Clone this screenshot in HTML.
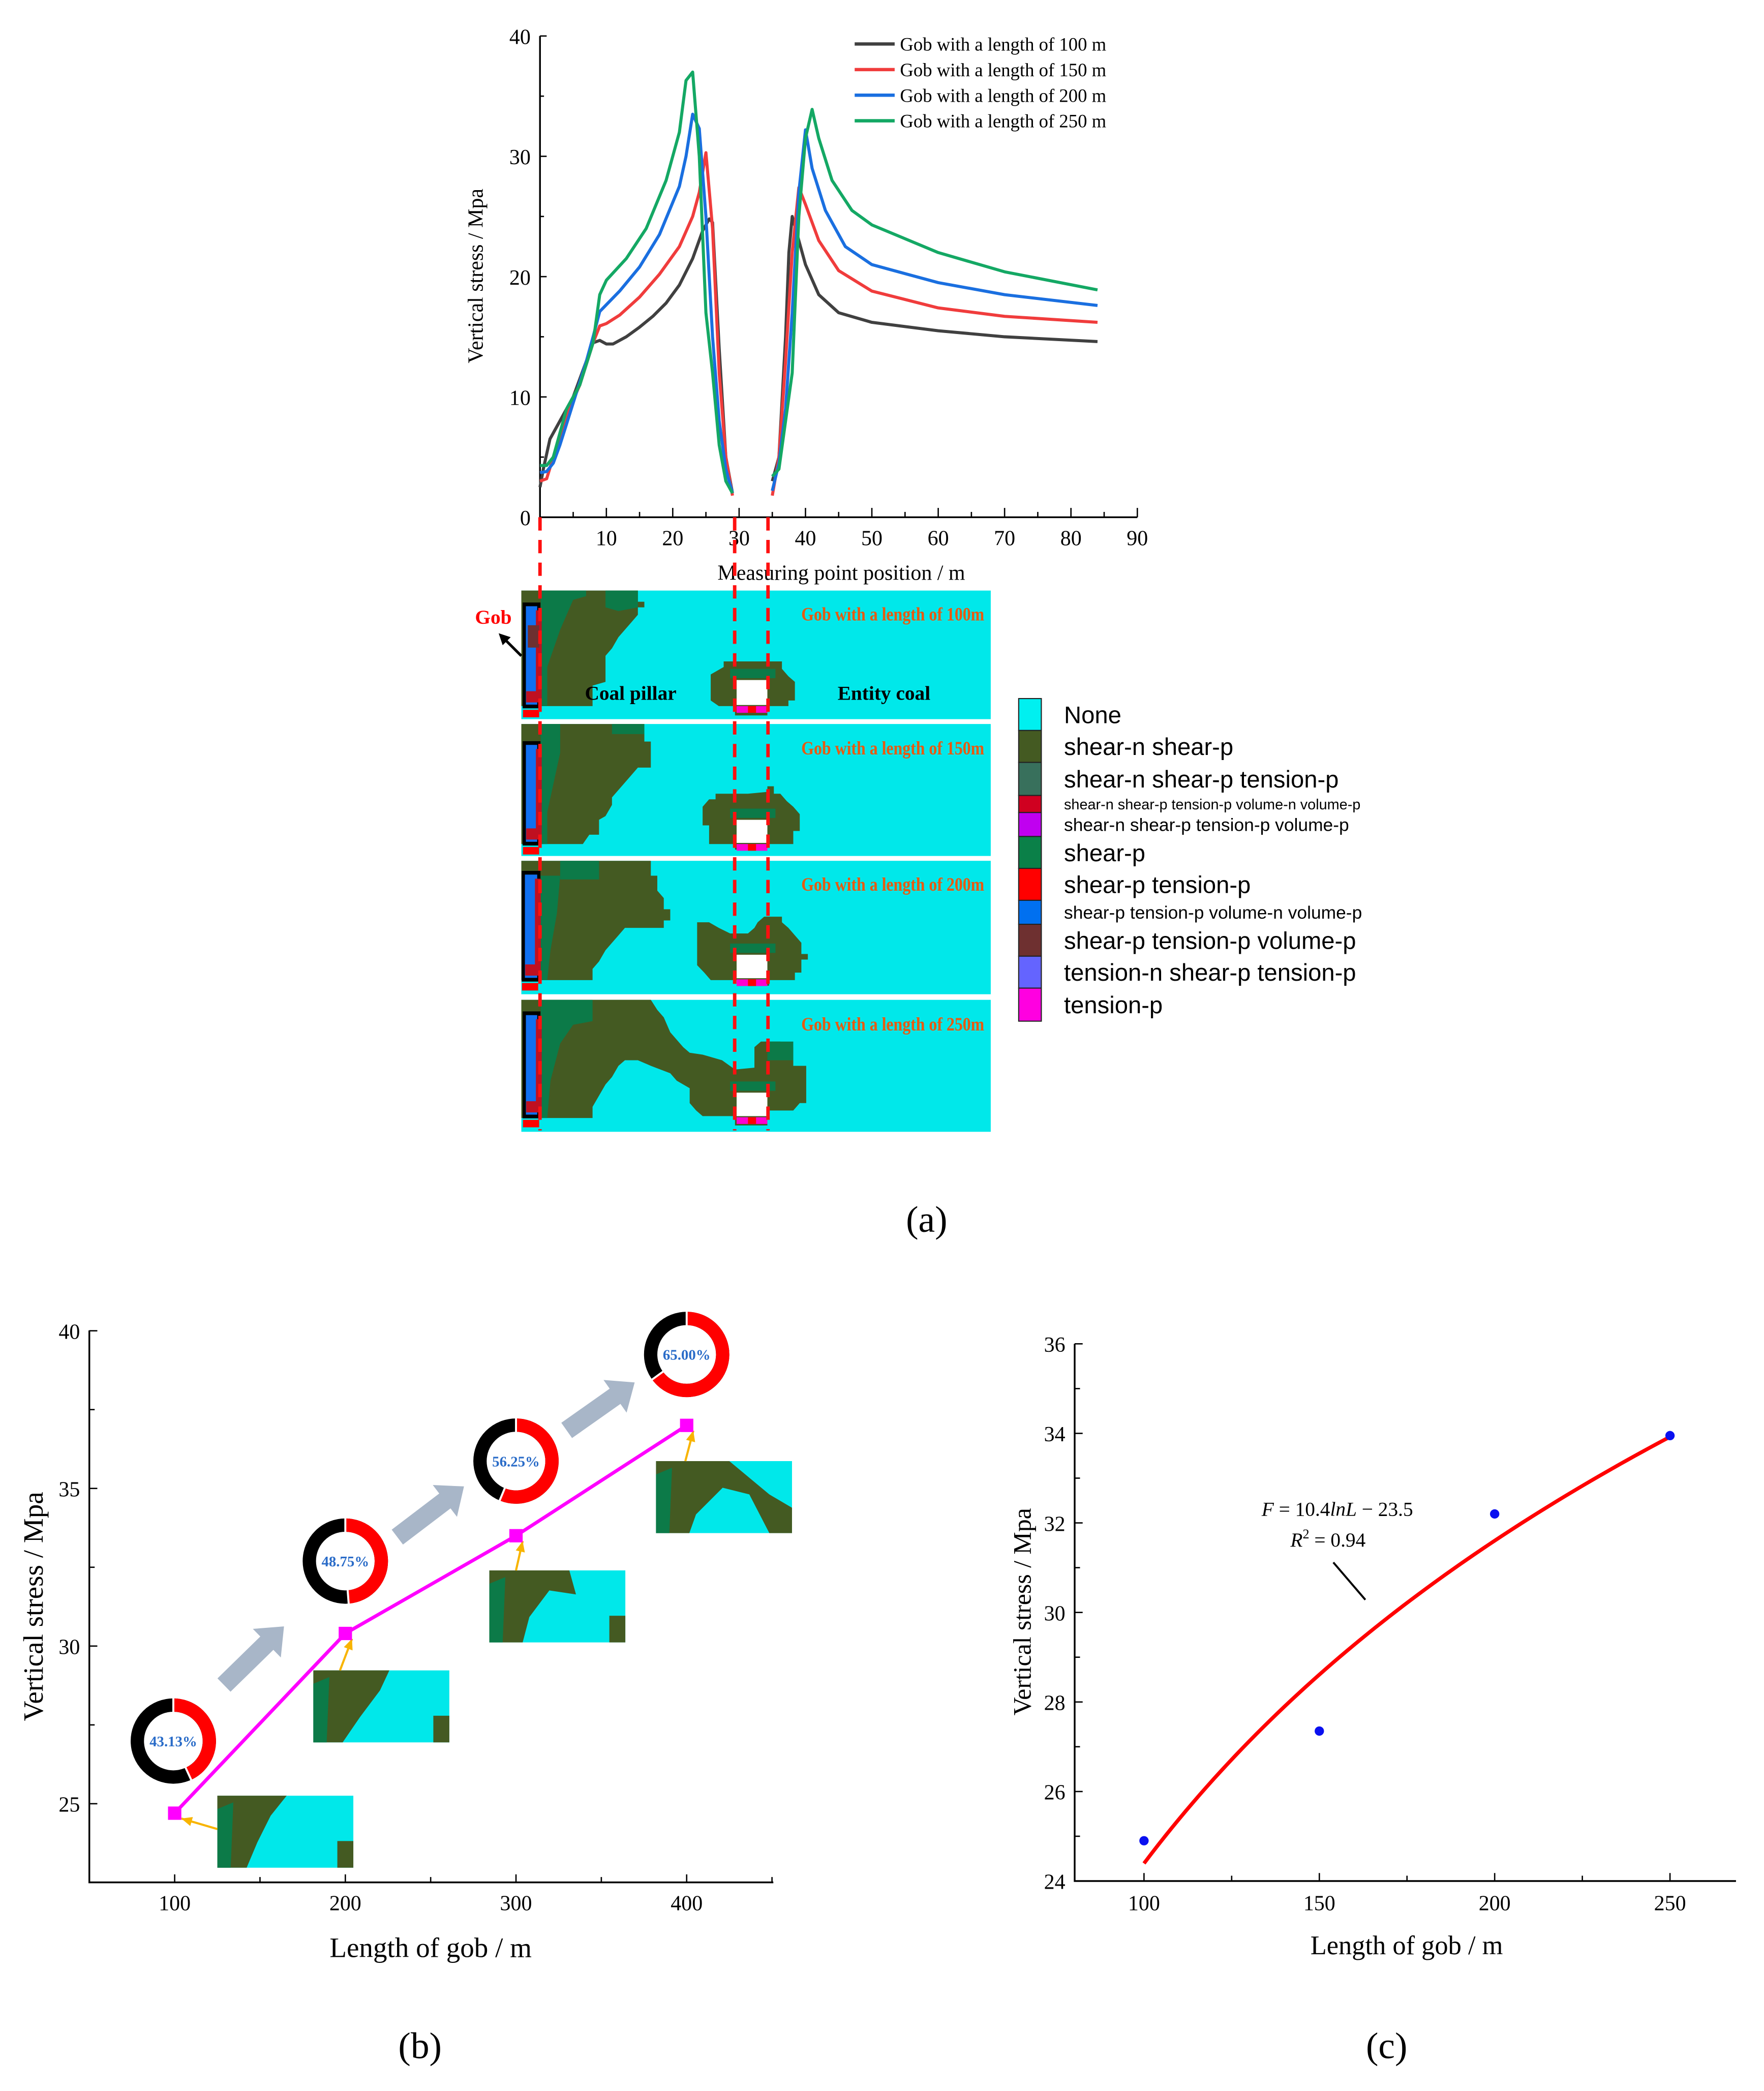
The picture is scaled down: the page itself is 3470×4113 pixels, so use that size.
<!DOCTYPE html>
<html><head><meta charset="utf-8"><style>
html,body{margin:0;padding:0;background:#fff;}
svg{display:block;}
text{font-family:"Liberation Serif",serif;}
.sans{font-family:"Liberation Sans",sans-serif;}
</style></head><body>
<svg id="fig" width="3470" height="4113" viewBox="0 0 1323 1568.5" preserveAspectRatio="none" xmlns="http://www.w3.org/2000/svg">
<rect width="1330" height="1580" fill="#fff"/>
<g id="top"></g>
<g id="maps"></g>
<g id="legend"></g>
<g id="pb"></g>
<g id="pc"></g>
<text x="695" y="924" font-size="28" text-anchor="middle">(a)</text>
<text x="315" y="1544" font-size="28" text-anchor="middle">(b)</text>
<text x="1040" y="1544" font-size="28" text-anchor="middle">(c)</text>
</svg>
<script>
const NS="http://www.w3.org/2000/svg";
function mk(p,t,a,txt){const e=document.createElementNS(NS,t);for(const k in a)e.setAttribute(k,a[k]);if(txt!==undefined)e.textContent=txt;p.appendChild(e);return e;}

// ---------- Top chart data ----------
const topXTicks=[10,20,30,40,50,60,70,80,90];
const topYTicks=[0,10,20,30,40];
const seriesNames=["Gob with a length of 100 m","Gob with a length of 150 m","Gob with a length of 200 m","Gob with a length of 250 m"];
const seriesColors=["#404040","#f03c3c","#1a6fe0","#14a864"];
const s100L=[[0,2.5],[0.5,4],[1.5,6.5],[3,8],[5,10],[7,13],[8,14.5],[9,14.7],[10,14.4],[11,14.4],[13,15],[15,15.8],[17,16.7],[19,17.8],[21,19.3],[23,21.5],[24.5,23.8],[25.5,24.8],[26,24.5],[27,14],[28,5],[29,2]];
const s100R=[[35,3],[36,5],[37,15],[37.5,22],[38,25],[39,23],[40,21],[42,18.5],[45,17],[50,16.2],[60,15.5],[70,15],[84,14.6]];
const s150L=[[0,3],[1,3.2],[2,5],[4,8.5],[6,11],[8,14.5],[9,15.9],[10,16.1],[12,16.8],[15,18.3],[18,20.2],[21,22.5],[23,25],[24,27],[25,30.3],[26,24],[27,12],[28,5],[29,1.8]];
const s150R=[[35,1.8],[36,5],[37,13],[38,22],[39,27.4],[40,26],[42,23],[45,20.5],[50,18.8],[60,17.4],[70,16.7],[84,16.2]];
const s200L=[[0,3.7],[1,3.8],[2,4.5],[3,6],[5,9.5],[7,13],[8,15],[9,17.1],[12,18.8],[15,20.8],[18,23.5],[21,27.5],[22,30],[23,33.5],[24,32.3],[25,25],[26,15],[27,8],[28,4],[29,2]];
const s200R=[[35,2.2],[36,4.5],[37,9],[38,17],[39,27],[40,32.2],[41,29],[43,25.5],[46,22.5],[50,21],[60,19.5],[70,18.5],[84,17.6]];
const s250L=[[0,4.3],[1,4.3],[2,5],[3,7],[4,9],[6,11],[8,14.5],[9,18.5],[10,19.7],[13,21.5],[16,24],[19,28],[21,32],[22,36.3],[23,37],[24,30],[25,17],[26,12],[27,6],[28,3],[29,2]];
const s250R=[[35,3.4],[36,4],[37,8],[38,12],[39,25],[40,31.5],[41,33.9],[42,31.5],[44,28],[47,25.5],[50,24.3],[60,22],[70,20.4],[84,18.9]];
const topSeries=[[s100L,s100R],[s150L,s150R],[s200L,s200R],[s250L,s250R]];

// ---------- chart b data ----------
const bLengths=[100,200,300,400];
const bStress=[24.7,30.4,33.5,37.0];
const bRatios=[43.13,48.75,56.25,65.00];
const bXTicks=[100,200,300,400];
const bYTicks=[25,30,35,40];

// ---------- chart c data ----------
const cLengths=[100,150,200,250];
const cStress=[24.9,27.35,32.2,33.95];
const cXTicks=[100,150,200,250];
const cYTicks=[24,26,28,30,32,34,36];
const fitA=10.4, fitB=-23.5;

// ---------- legend data ----------
const zoneNames=["None","shear-n shear-p","shear-n shear-p tension-p","shear-n shear-p tension-p volume-n volume-p","shear-n shear-p tension-p volume-p","shear-p","shear-p tension-p","shear-p tension-p volume-n volume-p","shear-p tension-p volume-p","tension-n shear-p tension-p","tension-p"];
const zoneColors=["#00f0f0","#445a22","#38705c","#d00020","#c000f0","#0a8048","#ff0000","#0070f0","#6e3030","#6464ff","#ff00e0"];

// ===== Top chart =====
(function(){
const g=document.getElementById('top');
const X=v=>405+v*(853-405)/90, Y=v=>388-v*(388-27)/40;
let ax=mk(g,'path',{d:`M405,27V388H853`,fill:'none',stroke:'#000','stroke-width':1.3});

for(const t of topYTicks){mk(g,'line',{x1:405,x2:410,y1:Y(t),y2:Y(t),stroke:'#000'});
 const e=mk(g,'text',{x:398,y:Y(t)+6,'font-size':16,'text-anchor':'end'},t);}
for(let t=5;t<40;t+=10)mk(g,'line',{x1:405,x2:408,y1:Y(t),y2:Y(t),stroke:'#000'});
for(const t of topXTicks){mk(g,'line',{x1:X(t),x2:X(t),y1:388,y2:381,stroke:'#000'});
 const e=mk(g,'text',{x:X(t),y:409,'font-size':16,'text-anchor':'middle'},t);}
for(let t=5;t<90;t+=10)mk(g,'line',{x1:X(t),x2:X(t),y1:388,y2:384,stroke:'#000'});
let yt=mk(g,'text',{x:0,y:0,'font-size':16,'text-anchor':'middle',transform:'translate(362,207) rotate(-90)'},'Vertical stress / Mpa');

let xt=mk(g,'text',{x:631,y:435,'font-size':16,'text-anchor':'middle'},'Measuring point position / m');

topSeries.forEach((segs,i)=>{segs.forEach(seg=>{
 const l=mk(g,'polyline',{points:seg.map(p=>X(p[0])+','+Y(p[1])).join(' '),fill:'none',stroke:seriesColors[i],'stroke-width':2.3,'stroke-linejoin':'round'});
 });
 const ly=33+i*19.2;
 const le=mk(g,'line',{x1:641,x2:671,y1:ly,y2:ly,stroke:seriesColors[i],'stroke-width':2.5});
 
 const lt=mk(g,'text',{x:675,y:ly+5,'font-size':14},seriesNames[i]);
 
});
})();

// ===== Maps =====
(function(){
const g=document.getElementById('maps');
const mg=mk(g,'g',{transform:'translate(381.29,419.23) scale(0.2428,0.2796)'});
const OL="#445a22",GR="#0c7a48",CY="#00e8ea";
const panels=[
 {y0:85,y1:430,ol:[[40,85],[400,85],[400,115],[420,115],[420,130],[400,130],[400,150],[380,170],[360,190],[340,210],[320,240],[300,260],[300,330],[260,340],[260,395],[40,395]],
  gr:[[100,85],[240,85],[240,100],[200,110],[180,150],[160,190],[140,240],[120,290],[120,395],[100,395]],
  gr2:[[300,85],[400,85],[400,130],[340,140],[300,130]],
  blob:[[625,310],[665,290],[665,275],[845,275],[845,295],[865,315],[885,330],[885,380],[865,380],[865,395],[800,395],[800,420],[700,420],[700,395],[650,395],[625,380]],
  wh:[705,325,800,392],gob:[45,118,98,400],lab:'Gob with a length of 100m',ly:150},
 {y0:443,y1:797,ol:[[40,443],[420,443],[420,490],[440,490],[440,560],[400,560],[380,580],[360,600],[340,620],[320,640],[320,660],[300,690],[280,700],[280,740],[250,740],[230,765],[40,765]],
  gr:[[100,443],[160,443],[160,520],[140,600],[120,680],[120,765],[100,765]],
  gr2:[[320,443],[420,443],[420,470],[320,470]],
  blob:[[600,665],[620,645],[640,645],[640,630],[740,630],[800,625],[800,610],[820,610],[820,630],[840,630],[860,650],[880,665],[900,685],[900,730],[880,730],[880,765],[800,765],[800,780],[700,780],[700,765],[620,765],[620,715],[600,715]],
  wh:[705,700,800,762],gob:[45,490,98,768],lab:'Gob with a length of 150m',ly:510},
 {y0:810,y1:1168,ol:[[40,810],[440,810],[440,850],[460,850],[460,890],[480,910],[480,940],[500,940],[500,970],[480,970],[480,990],[360,990],[340,1010],[320,1030],[300,1050],[280,1080],[260,1100],[260,1130],[40,1130]],
  gr:[[100,850],[160,850],[150,950],[130,1050],[120,1130],[100,1130]],
  gr2:[[160,810],[280,810],[280,860],[160,860]],
  blob:[[583,975],[620,975],[650,990],[685,1005],[740,1005],[760,990],[770,975],[790,960],[845,960],[845,975],[865,990],[885,1010],[905,1030],[905,1060],[925,1060],[925,1075],[905,1075],[905,1110],[885,1110],[885,1130],[805,1130],[805,1145],[705,1145],[705,1130],[625,1130],[605,1110],[583,1090]],
  wh:[705,1062,800,1125],gob:[42,838,98,1133],lab:'Gob with a length of 200m',ly:875},
 {y0:1183,y1:1537,ol:[[40,1183],[440,1183],[460,1210],[480,1230],[500,1270],[520,1290],[540,1310],[560,1325],[600,1330],[660,1345],[700,1370],[760,1365],[760,1310],[780,1295],[840,1295],[840,1310],[880,1310],[880,1360],[920,1360],[920,1460],[900,1460],[880,1480],[800,1480],[800,1520],[700,1520],[700,1495],[600,1495],[580,1480],[560,1460],[560,1420],[520,1400],[500,1380],[440,1360],[400,1345],[360,1345],[340,1360],[320,1390],[300,1410],[280,1440],[260,1470],[260,1500],[40,1500]],
  gr:[[100,1183],[260,1183],[260,1240],[200,1250],[160,1300],[130,1400],[120,1500],[100,1500]],
  gr2:[[800,1295],[880,1295],[880,1345],[800,1345]],
  blob:null,wh:[705,1432,800,1495],gob:[45,1215,98,1500],lab:'Gob with a length of 250m',ly:1250}
];
const pts=a=>a.map(p=>p.join(',')).join(' ');
panels.forEach((p,i)=>{
 const r=mk(mg,'rect',{x:40,y:p.y0,width:1450,height:p.y1-p.y0,fill:CY});
 
 mk(mg,'polygon',{points:pts(p.ol),fill:OL});
 mk(mg,'polygon',{points:pts(p.gr),fill:GR});
 mk(mg,'polygon',{points:pts(p.gr2),fill:GR});
 if(p.blob)mk(mg,'polygon',{points:pts(p.blob),fill:OL});
 mk(mg,'rect',{x:685,y:p.wh[1]-30,width:140,height:25,fill:GR});
 mk(mg,'rect',{x:p.wh[0],y:p.wh[1],width:p.wh[2]-p.wh[0],height:p.wh[3]-p.wh[1],fill:'#fff'});
 mk(mg,'rect',{x:705,y:p.wh[3]+3,width:95,height:18,fill:'#ff00d0'});
 mk(mg,'rect',{x:740,y:p.wh[3]+3,width:25,height:18,fill:'#ff0000'});
 const gb=p.gob;
 mk(mg,'rect',{x:gb[0]+4,y:gb[1]+4,width:gb[2]-gb[0]-8,height:gb[3]-gb[1]-8,fill:'#1070f0',stroke:'#000','stroke-width':10});
 mk(mg,'rect',{x:gb[0]+40,y:gb[1]+20,width:18,height:gb[3]-gb[1]-40,fill:'#c01020'});
 mk(mg,'rect',{x:gb[0]+10,y:gb[3]-45,width:45,height:30,fill:'#c01020'});
 mk(mg,'rect',{x:gb[0],y:gb[3]+5,width:50,height:20,fill:'#ff0000'});
 if(i===0)mk(mg,'rect',{x:gb[0]+15,y:gb[1]+60,width:35,height:60,fill:'#6e3030'});
 const t=mk(mg,'text',{x:1470,y:p.ly+15,'font-size':50,'font-weight':'bold',fill:'#e85a10','text-anchor':'end'},p.lab);
 
});
// dashed lines
[405,551,576].forEach(x=>{const l=mk(g,'line',{x1:x,x2:x,y1:388,y2:848,stroke:'#ff1010','stroke-width':2.6,'stroke-dasharray':'10,7'});
 });
const cp=mk(g,'text',{x:473,y:525,'font-size':15,'font-weight':'bold','text-anchor':'middle'},'Coal pillar');

const ec=mk(g,'text',{x:663,y:525,'font-size':15,'font-weight':'bold','text-anchor':'middle'},'Entity coal');

const gb=mk(g,'text',{x:370,y:468,'font-size':15,'font-weight':'bold',fill:'#ff0000','text-anchor':'middle'},'Gob');

mk(g,'line',{x1:391,x2:378,y1:492,y2:479,stroke:'#000','stroke-width':2});
mk(g,'polygon',{points:'374,475 383,478 377,484',fill:'#000'});
})();

// ===== Legend =====
(function(){
const g=document.getElementById('legend');
const hs=[140,140,145,75,105,140,140,105,140,140,145];const tot=hs.reduce((a,b)=>a+b,0);
let y=524;const H=242;
zoneNames.forEach((n,i)=>{const h=hs[i]/tot*H;
 const r=mk(g,'rect',{x:764,y:y,width:17,height:h,fill:zoneColors[i],stroke:'#222','stroke-width':0.8});
 
 const small=(i===3||i===4||i===7);
 const fs=i===3?11:(small?13.5:18);
 const t=mk(g,'text',{x:798,y:y+h/2+fs*0.36,'font-size':fs,class:'sans'},n);
 
 y+=h;});
})();

// ===== Chart b =====
(function(){
const g=document.getElementById('pb');
const X=v=>131+(v-100)*1.28, Y=v=>1353-(v-25)*23.65;
mk(g,'path',{d:'M67,998V1412H580',fill:'none',stroke:'#000','stroke-width':1.3});
bYTicks.forEach(t=>{mk(g,'line',{x1:67,x2:73,y1:Y(t),y2:Y(t),stroke:'#000'});
 const e=mk(g,'text',{x:60,y:Y(t)+6,'font-size':16,'text-anchor':'end'},t);});
[27.5,32.5,37.5].forEach(t=>mk(g,'line',{x1:67,x2:71,y1:Y(t),y2:Y(t),stroke:'#000'}));
bXTicks.forEach(t=>{mk(g,'line',{x1:X(t),x2:X(t),y1:1412,y2:1406,stroke:'#000'});
 const e=mk(g,'text',{x:X(t),y:1433,'font-size':16,'text-anchor':'middle'},t);});
[150,250,350,450].forEach(t=>mk(g,'line',{x1:X(t),x2:X(t),y1:1412,y2:1408,stroke:'#000'}));
const yt=mk(g,'text',{x:0,y:0,'font-size':21,'text-anchor':'middle',transform:'translate(32,1205) rotate(-90)'},'Vertical stress / Mpa');

const xt=mk(g,'text',{x:323,y:1468,'font-size':21,'text-anchor':'middle'},'Length of gob / m');

// gray arrows
[[168,1264,213,1220],[298,1153,348,1115],[425,1073,476,1037]].forEach(a=>{
 const dx=a[2]-a[0],dy=a[3]-a[1],L=Math.hypot(dx,dy),ux=dx/L,uy=dy/L,px=-uy,py=ux;
 const hx=a[2]-ux*18,hy=a[3]-uy*18;
 const d=`M${a[0]+px*7},${a[1]+py*7}L${hx+px*7},${hy+py*7}L${hx+px*15},${hy+py*15}L${a[2]},${a[3]}L${hx-px*15},${hy-py*15}L${hx-px*7},${hy-py*7}L${a[0]-px*7},${a[1]-py*7}Z`;
 const e=mk(g,'path',{d:d,fill:'#a8b6c8'});});
// thumbnails
const thumbs=[[163,1347],[235,1253],[367,1178],[492,1096]];
thumbs.forEach((t,i)=>{const w=102,h=54,x=t[0],y=t[1];
 const r=mk(g,'rect',{x:x,y:y,width:w,height:h,fill:'#00e8ea'});
 let poly;
 if(i<2)poly=[[0,0],[i?57:52,0],[i?50:40,15],[i?35:30,35],[i?22:22,54],[0,54]];
 else if(i===2)poly=[[0,0],[60,0],[65,18],[45,15],[30,35],[25,54],[0,54]];
 else poly=[[0,0],[55,0],[85,25],[102,35],[102,54],[85,54],[70,25],[50,20],[30,40],[25,54],[0,54]];
 mk(g,'polygon',{points:poly.map(p=>(x+p[0])+','+(y+p[1])).join(' '),fill:'#445a22'});
 mk(g,'polygon',{points:`${x},${y+10} ${x+12},${y+5} ${x+10},${y+54} ${x},${y+54}`,fill:'#0c7a48'});
 if(i<3)mk(g,'rect',{x:x+w-12,y:y+h-20,width:12,height:20,fill:'#445a22'});
 const ax=X(bLengths[i])+5,ay=Y(bStress[i])+4;
 const sx=i===0?x:x+(i===3?22:20),sy=i===0?y+25:y;
 mk(g,'line',{x1:sx,y1:sy,x2:ax,y2:ay,stroke:'#f8b400','stroke-width':1.6});
 const dx=sx-ax,dy=sy-ay,L=Math.hypot(dx,dy),ux=dx/L,uy=dy/L;
 mk(g,'polygon',{points:`${ax},${ay} ${ax+ux*8-uy*3.5},${ay+uy*8+ux*3.5} ${ax+ux*8+uy*3.5},${ay+uy*8-ux*3.5}`,fill:'#f8b400'});
});
// line and markers
const ln=mk(g,'polyline',{points:bLengths.map((v,i)=>X(v)+','+Y(bStress[i])).join(' '),fill:'none',stroke:'#ff00ff','stroke-width':2.6});

bLengths.forEach((v,i)=>{const m=mk(g,'rect',{x:X(v)-5,y:Y(bStress[i])-5,width:10,height:10,fill:'#ff00ff'});
 });
// donuts
const dc=[[130,1306],[259,1171],[387,1096],[515,1016]];
bRatios.forEach((p,i)=>{const cx=dc[i][0],cy=dc[i][1],r=27,sw=10;
 const a=p/100*2*Math.PI;
 const ex=cx+r*Math.sin(a),ey=cy-r*Math.cos(a);
 const bg=mk(g,'circle',{cx:cx,cy:cy,r:r,fill:'none',stroke:'#000','stroke-width':sw});
 
 mk(g,'path',{d:`M${cx},${cy-r}A${r},${r} 0 ${p>50?1:0} 1 ${ex},${ey}`,fill:'none',stroke:'#ff0000','stroke-width':sw});
 mk(g,'line',{x1:cx,y1:cy-r-6,x2:cx,y2:cy-r+6,stroke:'#fff','stroke-width':1.5});
 mk(g,'line',{x1:cx+(r-6)*Math.sin(a),y1:cy-(r-6)*Math.cos(a),x2:cx+(r+6)*Math.sin(a),y2:cy-(r+6)*Math.cos(a),stroke:'#fff','stroke-width':1.5});
 const t=mk(g,'text',{x:cx,y:cy+4,'font-size':11,'font-weight':'bold',fill:'#2a6cc8','text-anchor':'middle'},p.toFixed(2)+'%');
 });
})();

// ===== Chart c =====
(function(){
const g=document.getElementById('pc');
const X=v=>858+(v-100)*2.63, Y=v=>1411-(v-24)*33.58;
mk(g,'path',{d:'M806,1008V1411H1302',fill:'none',stroke:'#000','stroke-width':1.3});
cYTicks.forEach(t=>{mk(g,'line',{x1:806,x2:812,y1:Y(t),y2:Y(t),stroke:'#000'});
 const e=mk(g,'text',{x:799,y:Y(t)+6,'font-size':16,'text-anchor':'end'},t);});
[25,27,29,31,33,35].forEach(t=>mk(g,'line',{x1:806,x2:810,y1:Y(t),y2:Y(t),stroke:'#000'}));
cXTicks.forEach(t=>{mk(g,'line',{x1:X(t),x2:X(t),y1:1411,y2:1405,stroke:'#000'});
 const e=mk(g,'text',{x:X(t),y:1433,'font-size':16,'text-anchor':'middle'},t);});
[125,175,225].forEach(t=>mk(g,'line',{x1:X(t),x2:X(t),y1:1411,y2:1407,stroke:'#000'}));
const yt=mk(g,'text',{x:0,y:0,'font-size':19,'text-anchor':'middle',transform:'translate(773,1209) rotate(-90)'},'Vertical stress / Mpa');

const xt=mk(g,'text',{x:1055,y:1466,'font-size':20,'text-anchor':'middle'},'Length of gob /  m');

let d='';for(let L=100;L<=250;L+=2){d+=(L===100?'M':'L')+X(L)+','+Y(fitA*Math.log(L)+fitB);}
const f=mk(g,'path',{d:d,fill:'none',stroke:'#ff0000','stroke-width':2.8});

cLengths.forEach((v,i)=>{const c=mk(g,'circle',{cx:X(v),cy:Y(cStress[i]),r:3.5,fill:'#0a10f0'});
 });
const e1=mk(g,'text',{x:1003,y:1137,'font-size':15,'text-anchor':'middle'});
e1.innerHTML='<tspan font-style="italic">F</tspan> = 10.4<tspan font-style="italic">lnL</tspan> − 23.5';

const e2=mk(g,'text',{x:996,y:1160,'font-size':15,'text-anchor':'middle'});
e2.innerHTML='<tspan font-style="italic">R</tspan><tspan dy="-6" font-size="10">2</tspan><tspan dy="6"> = 0.94</tspan>';

mk(g,'line',{x1:1000,y1:1172,x2:1024,y2:1200,stroke:'#000','stroke-width':1.5});
})();
</script>
</body></html>
